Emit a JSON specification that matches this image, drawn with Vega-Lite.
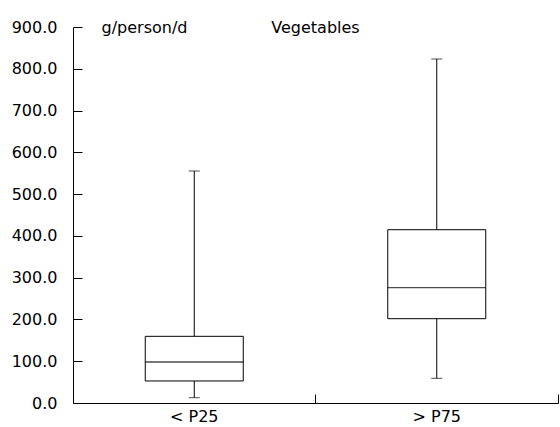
{
  "$schema": "https://vega.github.io/schema/vega-lite/v6.json",
  "width": 485,
  "height": 376,
  "autosize": {"type": "none"},
  "padding": {"left": 73, "top": 27, "right": 2, "bottom": 24},
  "background": "white",
  "config": {
    "view": {"stroke": null},
    "font": "DejaVu Sans",
    "axis": {"labelFont": "DejaVu Sans", "titleFont": "DejaVu Sans", "labelColor": "#000", "titleColor": "#000", "domainColor": "#000", "tickColor": "#000", "grid": false}
  },
  "title": {"text": "Vegetables", "anchor": "middle", "orient": "top", "frame": "group", "offset": 0, "dy": 25, "baseline": "middle", "fontSize": 16, "fontWeight": "normal", "font": "DejaVu Sans", "color": "#000"},
  "data": {
    "values": [
      {"group": "< P25", "min": 12.7, "q1": 52.7, "median": 98.1, "q3": 159.6, "max": 555.3},
      {"group": "> P75", "min": 59.1, "q1": 201.8, "median": 276.0, "q3": 414.8, "max": 823.4}
    ]
  },
  "encoding": {
    "x": {
      "field": "group", "type": "nominal", "sort": null,
      "scale": {"paddingInner": 0, "paddingOuter": 0},
      "axis": {
        "title": null, "labelAngle": 0, "labelFontSize": 16, "bandPosition": 1,
        "tickSize": -9, "labelPadding": 14, "labelBaseline": "top",
        "encode": {"labels": {"update": {"dx": {"signal": "datum.value == '< P25' ? 14 : -14"}}}}
      }
    }
  },
  "layer": [
    {
      "mark": {"type": "rule", "color": "#000", "strokeWidth": 1},
      "encoding": {
        "y": {
          "field": "min", "type": "quantitative",
          "scale": {"domain": [0, 900], "nice": false, "zero": true},
          "axis": {
            "title": "g/person/d", "titleAngle": 0, "titleAlign": "left", "titleBaseline": "middle",
            "titleX": 28, "titleY": 0, "titleFontSize": 16, "titleFontWeight": "normal",
            "values": [0, 100, 200, 300, 400, 500, 600, 700, 800, 900],
            "format": ".1f", "labelFontSize": 16, "tickSize": -9, "labelPadding": 25
          }
        },
        "y2": {"field": "max"}
      }
    },
    {
      "mark": {"type": "bar", "fill": "white", "stroke": "#000", "strokeWidth": 1, "size": 98},
      "encoding": {"y": {"field": "q1", "type": "quantitative"}, "y2": {"field": "q3"}}
    },
    {
      "mark": {"type": "tick", "color": "#000", "thickness": 1.3, "size": 98},
      "encoding": {"y": {"field": "median", "type": "quantitative"}}
    },
    {
      "mark": {"type": "tick", "color": "#000", "thickness": 1, "size": 11},
      "encoding": {"y": {"field": "min", "type": "quantitative"}}
    },
    {
      "mark": {"type": "tick", "color": "#000", "thickness": 1, "size": 11},
      "encoding": {"y": {"field": "max", "type": "quantitative"}}
    }
  ]
}
